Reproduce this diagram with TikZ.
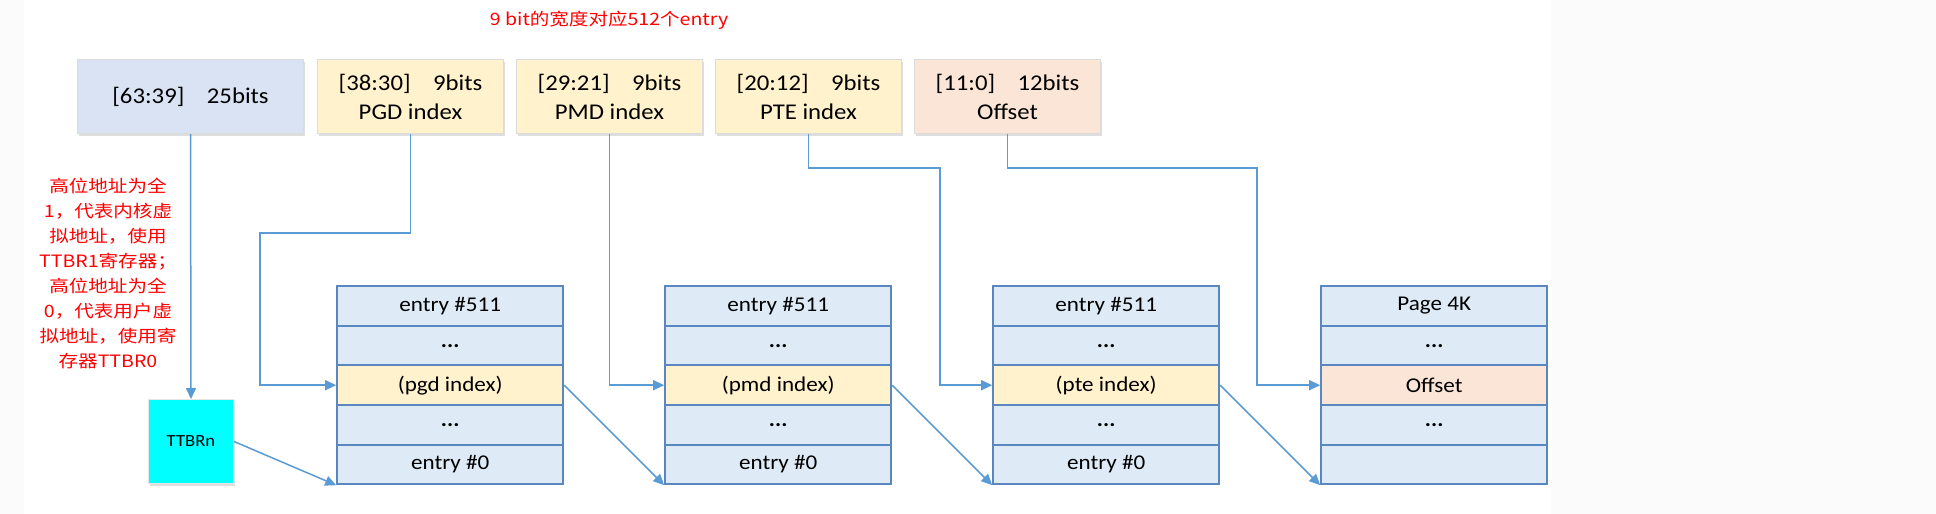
\documentclass[tikz,border=0pt]{standalone}
\usepackage{fontspec}
\setmainfont{Carlito}[FakeStretch=1.1]
\newfontfamily\cjkfont{Noto Sans CJK SC}[FakeStretch=1.15]
\usetikzlibrary{arrows.meta,shadows}
\definecolor{linkblue}{HTML}{5B9BD5}
\definecolor{tableblue}{HTML}{DEEBF7}
\definecolor{tableborder}{HTML}{5A87C0}
\definecolor{highblue}{HTML}{DAE3F3}
\definecolor{indexyellow}{HTML}{FFF2CC}
\definecolor{offsetorange}{HTML}{FBE5D6}
\definecolor{notered}{HTML}{FF0000}
\definecolor{ttbrcyan}{HTML}{00FFFF}
\newcommand{\skipdots}{\textbf{...}}
\tikzstyle{field_node}=[rectangle, draw=black!14, line width=1pt, minimum height=74pt, minimum width=186pt, inner sep=0pt, anchor=north west, align=center, font=\fontsize{22.5}{29}\selectfont, drop shadow={shadow xshift=1.5pt,shadow yshift=-2pt,fill=black!25,opacity=0.5}]
\tikzstyle{field_node_wide}=[field_node,minimum width=226pt]
\tikzstyle{table_row}=[rectangle, draw=tableborder, line width=2pt, fill=tableblue, minimum width=226pt, minimum height=39.6pt, inner sep=0pt, font=\fontsize{21}{24}\selectfont]
\tikzstyle{table_matrix}=[matrix anchor=north west, inner sep=0pt, row sep=-2pt, nodes={table_row}]
\tikzstyle{note_text}=[text=notered, align=center]
\tikzstyle{link}=[draw=linkblue, line width=1.5pt, -{Triangle[length=11pt,width=10pt]}]
\begin{document}
\begin{tikzpicture}[x=1pt,y=-1pt]

            \useasboundingbox (0,0) rectangle (1936,514);
            \fill[black!1.5] (0,0) rectangle (1936,514);
            \fill[white] (24,0) rectangle (1551,514);

            % Notes
            \node[note_text,font=\cjkfont\fontsize{17}{20}\selectfont] (width_note) at (609,20) {9 bit的宽度对应512个entry};
            \node[note_text,font=\cjkfont\fontsize{17}{25}\selectfont] (ttbr_note) at (108,273.5) {高位地址为全\\1，代表内核虚\\拟地址，使用\\TTBR1寄存器；\\高位地址为全\\0，代表用户虚\\拟地址，使用寄\\存器TTBR0};

            % Virtual address
            \node[field_node_wide,fill=highblue] (high_bits) at (77,59) {[63:39]\quad 25bits};
            \node[field_node,fill=indexyellow] (pgd_bits) at (317,59) {[38:30]\quad 9bits\\PGD index};
            \node[field_node,fill=indexyellow] (pmd_bits) at (516,59) {[29:21]\quad 9bits\\PMD index};
            \node[field_node,fill=indexyellow] (pte_bits) at (715,59) {[20:12]\quad 9bits\\PTE index};
            \node[field_node,fill=offsetorange] (offset_bits) at (914,59) {[11:0]\quad 12bits\\Offset};

            % TTBRn
            \node[field_node,fill=ttbrcyan,draw=black!10,minimum width=85pt,minimum height=84pt,font=\fontsize{17}{20}\selectfont] (ttbrn) at (148,399) {TTBRn};

            % PGD
            \matrix[table_matrix] (pgd_table) at (336,285) {
                \node {entry \#511}; \\
                \node {\skipdots}; \\
                \node[fill=indexyellow] (pgd_entry) {(pgd index)}; \\
                \node {\skipdots}; \\
                \node (pgd_zero) {entry \#0}; \\
            };

            % PMD
            \matrix[table_matrix] (pmd_table) at (664,285) {
                \node {entry \#511}; \\
                \node {\skipdots}; \\
                \node[fill=indexyellow] (pmd_entry) {(pmd index)}; \\
                \node {\skipdots}; \\
                \node (pmd_zero) {entry \#0}; \\
            };

            % PTE
            \matrix[table_matrix] (pte_table) at (992,285) {
                \node {entry \#511}; \\
                \node {\skipdots}; \\
                \node[fill=indexyellow] (pte_entry) {(pte index)}; \\
                \node {\skipdots}; \\
                \node (pte_zero) {entry \#0}; \\
            };

            % Page
            \matrix[table_matrix] (page_table) at (1320,285) {
                \node {Page 4K}; \\
                \node {\skipdots}; \\
                \node[fill=offsetorange] (page_offset) {Offset}; \\
                \node {\skipdots}; \\
                \node (page_zero) {}; \\
            };

            \coordinate (pgd_bend) at (260,233);
            \coordinate (pte_bend) at (940,168);
            \coordinate (offset_bend) at (1257,168);

            \draw[link] (high_bits.south) -- (ttbrn.north);
            \draw[link] (ttbrn.east) -- (pgd_zero.south west);
            \draw[link] (pgd_bits.south) |- (pgd_bend) |- (pgd_entry.west);
            \draw[link] (pmd_bits.south) |- (pmd_entry.west);
            \draw[link] (pte_bits.south) |- (pte_bend) |- (pte_entry.west);
            \draw[link] (offset_bits.south) |- (offset_bend) |- (page_offset.west);
            \draw[link] (pgd_entry.east) -- (pmd_zero.south west);
            \draw[link] (pmd_entry.east) -- (pte_zero.south west);
            \draw[link] (pte_entry.east) -- (page_zero.south west);

        \end{tikzpicture}
\end{document}
